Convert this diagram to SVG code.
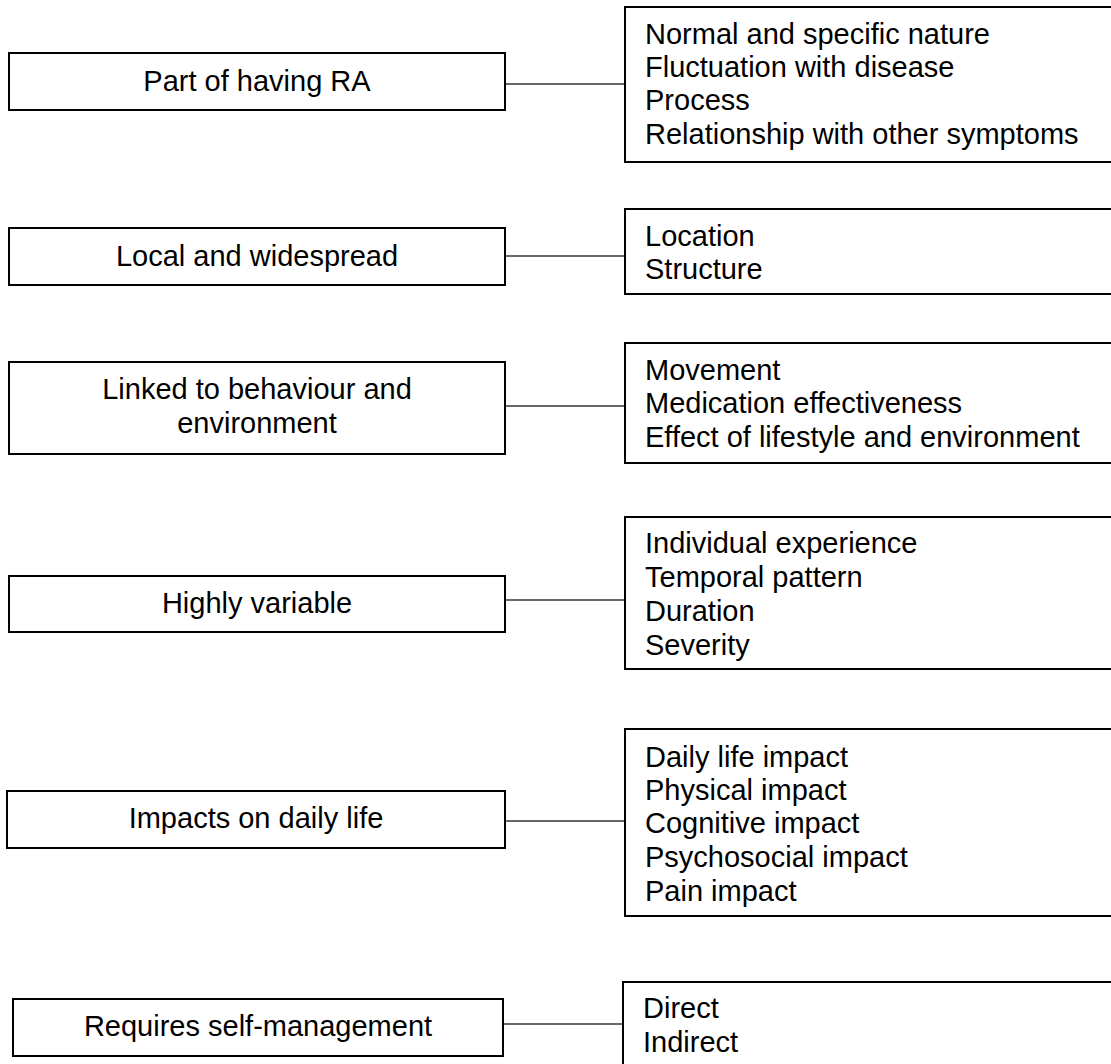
<svg xmlns="http://www.w3.org/2000/svg" width="1111" height="1064" viewBox="0 0 1111 1064">
<style>
  .box { fill: #fff; stroke: #000; stroke-width: 2; }
  .lt { font-family: "Liberation Sans", Arial, sans-serif; font-size: 29px; fill: #000; text-anchor: middle; }
  .rt { font-family: "Liberation Sans", Arial, sans-serif; font-size: 29px; fill: #000; }
  .conn { stroke: #333; stroke-width: 1.5; fill: none; }
</style>
<rect width="1111" height="1064" fill="#fff"/>
<g id="connectors">
  <line class="conn" x1="505" y1="84" x2="625" y2="84"/>
  <line class="conn" x1="505" y1="256" x2="625" y2="256"/>
  <line class="conn" x1="505" y1="406" x2="625" y2="406"/>
  <line class="conn" x1="505" y1="600" x2="625" y2="600"/>
  <line class="conn" x1="505" y1="821" x2="625" y2="821"/>
  <line class="conn" x1="503" y1="1024" x2="623" y2="1024"/>
</g>
<g id="node-part-of-having-ra">
  <rect class="box" x="9" y="53" width="496" height="57"/>
  <text class="lt" x="257" y="91">Part of having RA</text>
</g>
<g id="node-part-details">
  <rect class="box" x="625" y="7" width="495" height="155"/>
  <text class="rt" x="645" y="44">Normal and specific nature</text>
  <text class="rt" x="645" y="77">Fluctuation with disease</text>
  <text class="rt" x="645" y="110">Process</text>
  <text class="rt" x="645" y="144">Relationship with other symptoms</text>
</g>
<g id="node-local-widespread">
  <rect class="box" x="9" y="228" width="496" height="57"/>
  <text class="lt" x="257" y="266">Local and widespread</text>
</g>
<g id="node-local-details">
  <rect class="box" x="625" y="209" width="495" height="85"/>
  <text class="rt" x="645" y="246">Location</text>
  <text class="rt" x="645" y="279">Structure</text>
</g>
<g id="node-linked">
  <rect class="box" x="9" y="362" width="496" height="92"/>
  <text class="lt" x="257" y="399">Linked to behaviour and</text>
  <text class="lt" x="257" y="433">environment</text>
</g>
<g id="node-linked-details">
  <rect class="box" x="625" y="343" width="495" height="120"/>
  <text class="rt" x="645" y="380">Movement</text>
  <text class="rt" x="645" y="413">Medication effectiveness</text>
  <text class="rt" x="645" y="447">Effect of lifestyle and environment</text>
</g>
<g id="node-highly-variable">
  <rect class="box" x="9" y="576" width="496" height="56"/>
  <text class="lt" x="257" y="613">Highly variable</text>
</g>
<g id="node-variable-details">
  <rect class="box" x="625" y="517" width="495" height="152"/>
  <text class="rt" x="645" y="553">Individual experience</text>
  <text class="rt" x="645" y="587">Temporal pattern</text>
  <text class="rt" x="645" y="621">Duration</text>
  <text class="rt" x="645" y="655">Severity</text>
</g>
<g id="node-impacts">
  <rect class="box" x="7" y="791" width="498" height="57"/>
  <text class="lt" x="256" y="828">Impacts on daily life</text>
</g>
<g id="node-impacts-details">
  <rect class="box" x="625" y="729" width="495" height="187"/>
  <text class="rt" x="645" y="767">Daily life impact</text>
  <text class="rt" x="645" y="800">Physical impact</text>
  <text class="rt" x="645" y="833">Cognitive impact</text>
  <text class="rt" x="645" y="867">Psychosocial impact</text>
  <text class="rt" x="645" y="901">Pain impact</text>
</g>
<g id="node-self-management">
  <rect class="box" x="13" y="999" width="490" height="57"/>
  <text class="lt" x="258" y="1036">Requires self-management</text>
</g>
<g id="node-self-details">
  <rect class="box" x="623" y="982" width="497" height="100"/>
  <text class="rt" x="643" y="1018">Direct</text>
  <text class="rt" x="643" y="1052">Indirect</text>
</g>
</svg>
